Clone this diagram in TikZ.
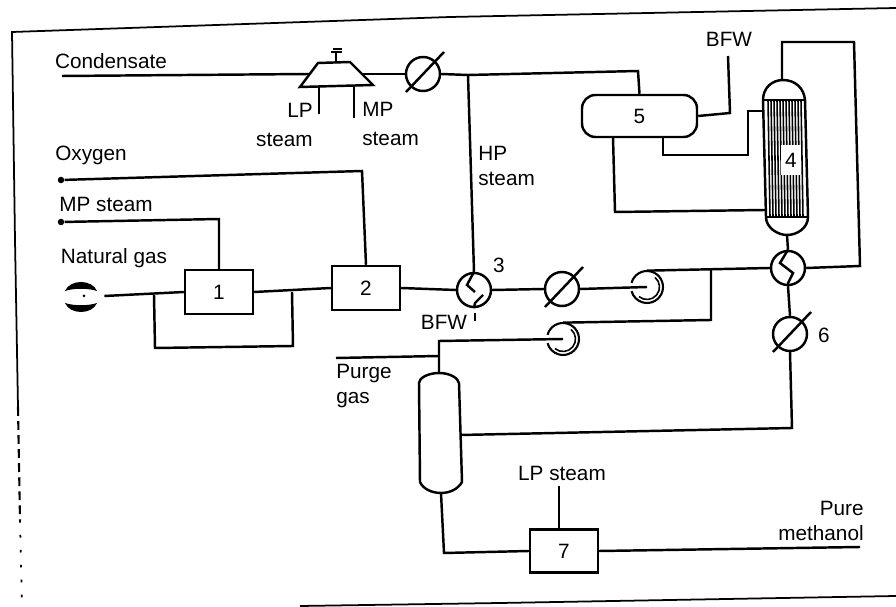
\documentclass[tikz,border=0pt]{standalone}
\usepackage{fontspec}
\setmainfont{Liberation Sans}
\usepackage{tikz}

\begin{document}
\begin{tikzpicture}[
    x=0.02cm, y=-0.02cm,
    stream/.style={line width=1.4pt, line join=miter},
    box/.style={rectangle, draw, line width=1.4pt, minimum width=1.36cm, minimum height=0.88cm, inner sep=0pt},
    vessel/.style={rectangle, draw, line width=1.4pt, rounded corners=0.27cm, minimum width=2.3cm, minimum height=0.84cm, inner sep=0pt},
    exchanger/.style={circle, draw, line width=1.4pt, minimum size=0.68cm, inner sep=0pt},
    cooler/.style={circle, draw, line width=1.4pt, minimum size=0.68cm, inner sep=0pt},
    coil/.style={circle, minimum size=0.64cm, inner sep=0pt},
    terminal/.style={circle, fill, minimum size=0.13cm, inner sep=0pt},
    lbl/.style={inner sep=0pt, align=left, font=\fontsize{11.8}{14}\selectfont},
    every node/.append style={font=\fontsize{11.8}{14}\selectfont}
]
    \useasboundingbox (0,0) rectangle (896,607);

    % Page frame
    \draw[line width=1pt] (896,8) -- (450,17) -- (12,32) -- (15,240) -- (18,407);
    \draw[line width=1.2pt, dash pattern=on 5pt off 3pt] (18,407) -- (20,520);
    \draw[line width=1pt, dash pattern=on 1.5pt off 7pt] (20,520) -- (22,607);
    \draw[line width=1pt] (300,606) -- (500,603) -- (896,596);

    % Units
    \node[box] (box1) at (219,292) {1};
    \node[box] (box2) at (366,288) {2};
    \node[exchanger] (exch3) at (474,290) {};
    \node[cooler] (coolerB) at (562,289) {};
    \node[coil] (coilA) at (647,287) {};
    \node[coil] (coilB) at (563,339) {};
    \node[exchanger] (exchE) at (788,268) {};
    \node[cooler] (cooler6) at (790,334) {};
    \node[box, minimum height=0.86cm] (box7) at (564,551) {7};
    \node[vessel] (vessel5) at (639.5,116) {5};
    \node[cooler] (coolerA) at (423,74) {};
    \node[minimum width=1.06cm, minimum height=0.48cm, inner sep=0pt] (turbine) at (336,74) {};
    \draw[stream] (300,87) -- (318,63) -- (350,62) -- (373,85) -- cycle;

    % Separator column
    \node[minimum width=0.84cm, minimum height=2.4cm, inner sep=0pt] (column) at (440,433) {};
    \draw[stream] (419,383) .. controls (419,378) and (428,373) .. (439,373) .. controls (450,373) and (458,378) .. (459,383) -- (462,482) .. controls (458,489) and (450,493) .. (441,493) .. controls (432,493) and (423,489) .. (420,482) -- cycle;

    % Reactor 4
    \foreach \i in {768,771,...,801} {
        \draw[line width=0.9pt] (\i,100) -- (\i+2,217);
    }
    \draw[stream] (763,100) .. controls (763,88) and (772,80) .. (783,80) .. controls (795,80) and (804,88) .. (805,100) -- (808,217) .. controls (808,228) and (797,235) .. (787,235) .. controls (778,235) and (766,228) .. (766,217) -- cycle;
    \draw[stream] (763,100) -- (805,100);
    \draw[stream] (766,217) -- (808,217);
    \node[fill=white, minimum width=0.4cm, minimum height=0.6cm, inner sep=0pt] (reactor) at (791,160) {4};

    % Natural gas symbol
    \node[minimum width=0.92cm, minimum height=0.6cm, inner sep=0pt] (gasin) at (81,296) {};
    \fill (65,291) .. controls (70,279) and (92,279) .. (97,291) .. controls (88,288) and (74,288) .. cycle;
    \fill (65,303) .. controls (74,306) and (88,306) .. (97,303) .. controls (92,315) and (70,315) .. cycle;
    \fill (84,296) circle (0.03cm);

    % Cooler slashes, coil windings
    \foreach \c in {coolerA,coolerB,cooler6} {
        \draw[stream] ([shift={(-17,18)}]\c.center) -- ([shift={(21,-22)}]\c.center);
    }
    \foreach \c in {coilA,coilB} {
        \draw[line width=1.2pt] (\c.center) ++(165:0.32cm) arc[start angle=165, end angle=-165, radius=0.32cm];
        \draw[line width=0.9pt] (\c.center) ++(50:0.25cm) arc[start angle=50, end angle=-130, radius=0.25cm];
    }

    % Exchanger windings
    \draw[stream] (exch3.north) -- (467,285) -- (475,292);
    \draw[stream] (483,295) -- (475,303) -- (exch3.south);
    \draw[stream] (exchE.north) -- (780,263) -- (793,273) -- (788,283) -- (exchE.south);

    % Labels
    \node[lbl] (condensate) at (111,61) {Condensate};
    \node[lbl] (oxygen) at (91,155) {Oxygen};
    \node[lbl] (mpfeed) at (106,204) {MP steam};
    \node[lbl] (natgas) at (114,258) {Natural gas};
    \node[lbl, align=right, anchor=east] (lplabel) at (313,125) {LP\\[3pt]steam};
    \node[lbl, anchor=west] (mplabel) at (362,124) {MP\\[3pt]steam};
    \node[lbl, anchor=west] (hplabel) at (478,166) {HP\\steam};
    \node[lbl] (bfw3) at (444,322) {BFW};
    \node[lbl] (bfw5) at (729,39) {BFW};
    \node[lbl] (num3) at (499,265) {3};
    \node[lbl] (num6) at (824,335) {6};
    \node[lbl, anchor=west] (purge) at (336,386) {Purge\\gas};
    \node[lbl] (lpfeed) at (562,473) {LP steam};
    \node[lbl, align=right, anchor=east] (product) at (864,521) {Pure\\methanol};

    % Free ends
    \node[terminal] (oxin) at (61,180) {};
    \node[terminal] (mpin) at (61,222) {};
    \coordinate (condin) at (62,76);
    \coordinate (hptee) at (468,75);
    \coordinate (lpout) at (319,114);
    \coordinate (mpout) at (354,118);
    \coordinate (bfwtick) at (475,321);
    \coordinate (bfw5in) at (728,56);
    \coordinate (purgeout) at (336,358);
    \coordinate (purgetee) at (439,356);
    \coordinate (lp7in) at (559,486);
    \coordinate (methout) at (860,547);
    \coordinate (bypassin) at (154,295);
    \coordinate (bypassout) at (292,292);

    % Steam side
    \draw[stream] (condin) -- (turbine.west);
    \draw[stream] (turbine.east) -- (coolerA);
    \draw[stream] (coolerA.east) -- (hptee) -- (638,71) -- (vessel5.north);
    \draw[stream] (hptee) -- (exch3.north);
    \draw[stream] (lpout |- turbine.south) -- (lpout);
    \draw[stream] (mpout |- turbine.south) -- (mpout);
    \draw[stream] (turbine.north) -- (336,52);
    \draw[line width=1pt] (331,52) -- (342,52);
    \draw[line width=0.8pt] (333,49) -- (342,49);
    \draw[stream] (475,313) -- (bfwtick);
    \draw[stream] (bfw5in) -- (730,113) -- (vessel5.east);
    \draw[stream] (663,137) -- (663,155) -- (748,155) -- (748,111) -- (763,111);
    \draw[stream] (613,137) -- (615,212) -- (765,210);

    % Feed
    \draw[stream] (oxin) -- (362,171) -- (box2.north);
    \draw[stream] (mpin) -- (219,219) -- (box1.north);
    \draw[stream] (gasin.east) -- (box1.west);
    \draw[stream] (box1.east) -- (box2.west);
    \draw[stream] (bypassin) -- (155,348) -- (293,346) -- (bypassout);

    % Synthesis loop
    \draw[stream] (box2.east) -- (exch3.west);
    \draw[stream] (exch3.east) -- (coolerB.west);
    \draw[stream] (coolerB.east) -- (coilA.center);
    \draw[stream] (coilA.north) -- (exchE.west);
    \draw[stream] (711,270) -- (711,320) -- (coilB.north);
    \draw[stream] (787,235) -- (exchE.north);
    \draw[stream] (782,80) -- (782,42) -- (854,42) -- (860,266) -- (exchE.east);
    \draw[stream] (exchE.south) -- (cooler6.north);
    \draw[stream] (cooler6.south) -- (792,428) -- (460,435);
    \draw[stream] (coilB.center) -- (439,341) -- (439,373);
    \draw[stream] (purgeout) -- (purgetee);
    \draw[stream] (441,493) -- (444,553) -- (box7.west);
    \draw[stream] (lp7in) -- (box7.north -| lp7in);
    \draw[stream] (box7.east) -- (methout);
\end{tikzpicture}
\end{document}
